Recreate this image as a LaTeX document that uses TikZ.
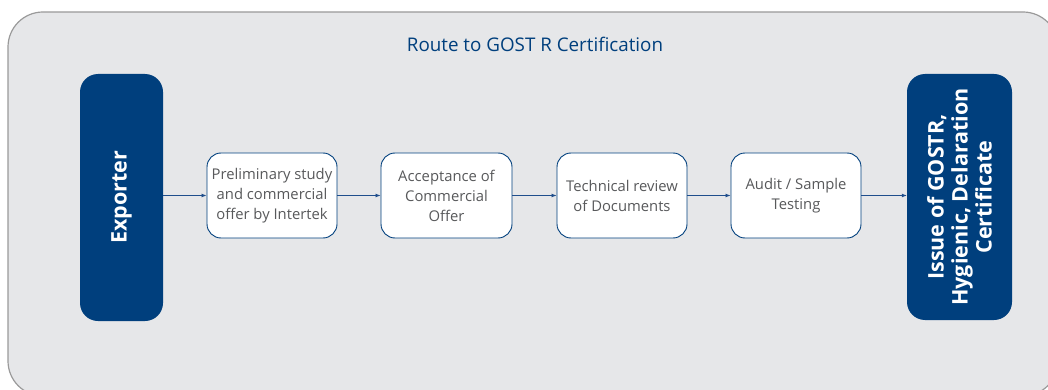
\documentclass[tikz,border=0pt]{standalone}
\usepackage{fontspec}
\setmainfont{Open Sans}
\usetikzlibrary{arrows.meta}
\definecolor{navy}{HTML}{003F7D}
\definecolor{panel}{HTML}{E6E7E9}
\definecolor{rim}{HTML}{9A9A9A}
\definecolor{txtgrey}{HTML}{58595B}
\definecolor{lineblue}{HTML}{1F4E8C}
\tikzset{
  stepbox/.style={draw=navy, line width=0.9pt, fill=white, rounded corners=14pt,
    minimum width=130pt, minimum height=85pt, align=center, text=txtgrey,
    font=\fontsize{14.8}{20}\selectfont, inner sep=1pt},
  bigbox/.style={fill=navy, rounded corners=18pt},
  biglabel/.style={text=white, align=center, rotate=90,
    font=\bfseries\fontsize{21.5}{24}\selectfont},
  flow/.style={draw=lineblue, line width=0.8pt, -{Latex[length=5pt,width=4pt]}}
}
\begin{document}
\begin{tikzpicture}[x=1pt,y=-1pt]
\useasboundingbox (0,0) rectangle (1048,390);
\draw[rim, fill=panel, line width=1.2pt, rounded corners=35pt] (8,12) rectangle (1058,396);
\node[text=navy, font=\fontsize{18.8}{22}\selectfont] (title) at (535,44) {Route to GOST R Certification};
\node[bigbox, minimum width=83pt, minimum height=247pt] (exp) at (121.5,197.5) {};
\node[biglabel] (explbl) at (exp.center) {Exporter};
\node[bigbox, minimum width=105pt, minimum height=246pt] (iss) at (959.5,197) {};
\node[biglabel] (isslbl) at (iss.center) {Issue of GOSTR,\\Hygienic, Delaration\\Certificate};
\node[stepbox] (s1) at (272,195.5) {Preliminary study\\and commercial\\offer by Intertek};
\node[stepbox, minimum width=131pt] (s2) at (446.5,195.5) {Acceptance of\\Commercial\\Offer};
\node[stepbox] (s3) at (622,195.5) {Technical review\\of Documents};
\node[stepbox] (s4) at (796,195.5) {Audit / Sample\\Testing};
\draw[flow] (exp.east |- s1.west) -- (s1.west);
\draw[flow] (s1) -- (s2);
\draw[flow] (s2) -- (s3);
\draw[flow] (s3) -- (s4);
\draw[flow] (s4.east) -- (iss.west |- s4.east);
\end{tikzpicture}
\end{document}
